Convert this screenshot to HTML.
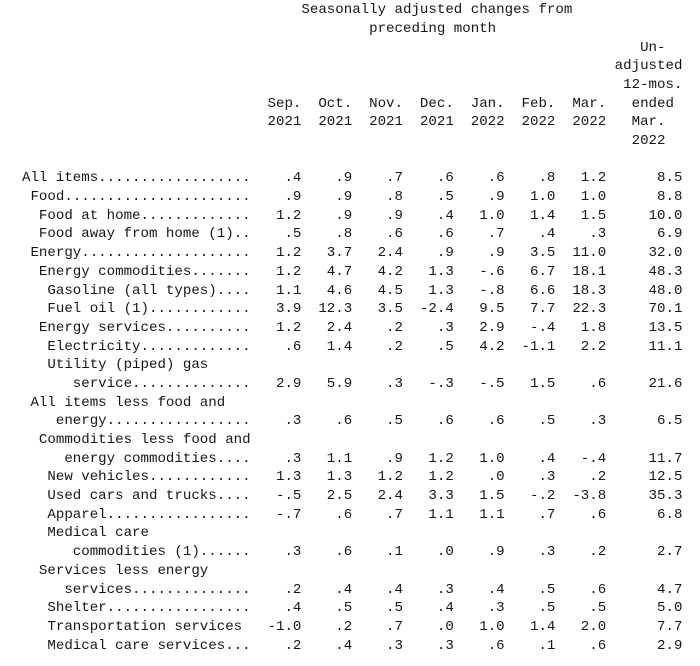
<!DOCTYPE html>
<html>
<head>
<meta charset="utf-8">
<style>
  html,body{margin:0;padding:0;background:#fff;}
  body{width:700px;height:666px;overflow:hidden;position:relative;}
  #tbl{position:absolute;left:5.06px;top:1.2px;margin:0;
       font-family:"Liberation Mono",monospace;font-size:14.12px;line-height:18.7px;
       color:#161616;white-space:pre;}
  #tbl div{height:18.7px;}
</style>
</head>
<body>
<div id="tbl"></div>
<script>
const headerLines = [
  " ".repeat(35) + "Seasonally adjusted changes from",
  " ".repeat(43) + "preceding month",
  " ".repeat(75) + "Un-",
  " ".repeat(72) + "adjusted",
  " ".repeat(73) + "12-mos.",
  " ".repeat(31) + "Sep.  Oct.  Nov.  Dec.  Jan.  Feb.  Mar.   ended",
  " ".repeat(31) + "2021  2021  2021  2021  2022  2022  2022   Mar.",
  " ".repeat(74) + "2022",
  ""
];
const labels = [
  "All items","Food","Food at home","Food away from home (1)","Energy","Energy commodities",
  "Gasoline (all types)","Fuel oil (1)","Energy services","Electricity","Utility (piped) gas","service",
  "All items less food and","energy","Commodities less food and","energy commodities","New vehicles",
  "Used cars and trucks","Apparel","Medical care","commodities (1)","Services less energy","services",
  "Shelter","Transportation services","Medical care services"
];
const indents = [2,3,4,4,3,4,5,5,4,5,5,8,3,6,4,7,5,5,5,5,8,4,7,5,5,5];
const sep21 = [.4,.9,1.2,.5,1.2,1.2,1.1,3.9,1.2,.6,null,2.9,null,.3,null,.3,1.3,-.5,-.7,null,.3,null,.2,.4,-1.0,.2];
const oct21 = [.9,.9,.9,.8,3.7,4.7,4.6,12.3,2.4,1.4,null,5.9,null,.6,null,1.1,1.3,2.5,.6,null,.6,null,.4,.5,.2,.4];
const nov21 = [.7,.8,.9,.6,2.4,4.2,4.5,3.5,.2,.2,null,.3,null,.5,null,.9,1.2,2.4,.7,null,.1,null,.4,.5,.7,.3];
const dec21 = [.6,.5,.4,.6,.9,1.3,1.3,-2.4,.3,.5,null,-.3,null,.6,null,1.2,1.2,3.3,1.1,null,0,null,.3,.4,0,.3];
const jan22 = [.6,.9,1.0,.7,.9,-.6,-.8,9.5,2.9,4.2,null,-.5,null,.6,null,1.0,0,1.5,1.1,null,.9,null,.4,.3,1.0,.6];
const feb22 = [.8,1.0,1.4,.4,3.5,6.7,6.6,7.7,-.4,-1.1,null,1.5,null,.5,null,.4,.3,-.2,.7,null,.3,null,.5,.5,1.4,.1];
const mar22 = [1.2,1.0,1.5,.3,11.0,18.1,18.3,22.3,1.8,2.2,null,.6,null,.3,null,-.4,.2,-3.8,.6,null,.2,null,.6,.5,2.0,.6];
const yoy = [8.5,8.8,10.0,6.9,32.0,48.3,48.0,70.1,13.5,11.1,null,21.6,null,6.5,null,11.7,12.5,35.3,6.8,null,2.7,null,4.7,5.0,7.7,2.9];

function fmt(v){
  let s = v.toFixed(1);
  s = s.replace(/^0\./, ".").replace(/^-0\./, "-.");
  return s;
}
const tbl = document.getElementById("tbl");
headerLines.forEach((t,i)=>{
  const d = document.createElement("div");
  
  
  d.textContent = t;
  tbl.appendChild(d);
});
const months = [sep21,oct21,nov21,dec21,jan22,feb22,mar22];
labels.forEach((lab,i)=>{
  const hasVals = sep21[i] !== null;
  let s = " ".repeat(indents[i]) + lab;
  if (hasVals) {
    const fill = (lab === "Transportation services") ? " " : ".";
    while (s.length < 29) s += fill;
    months.forEach(arr => { s += fmt(arr[i]).padStart(6); });
    s += fmt(yoy[i]).padStart(9);
  }
  const d = document.createElement("div");
  
  
  d.textContent = s;
  tbl.appendChild(d);
});
</script>
</body>
</html>
